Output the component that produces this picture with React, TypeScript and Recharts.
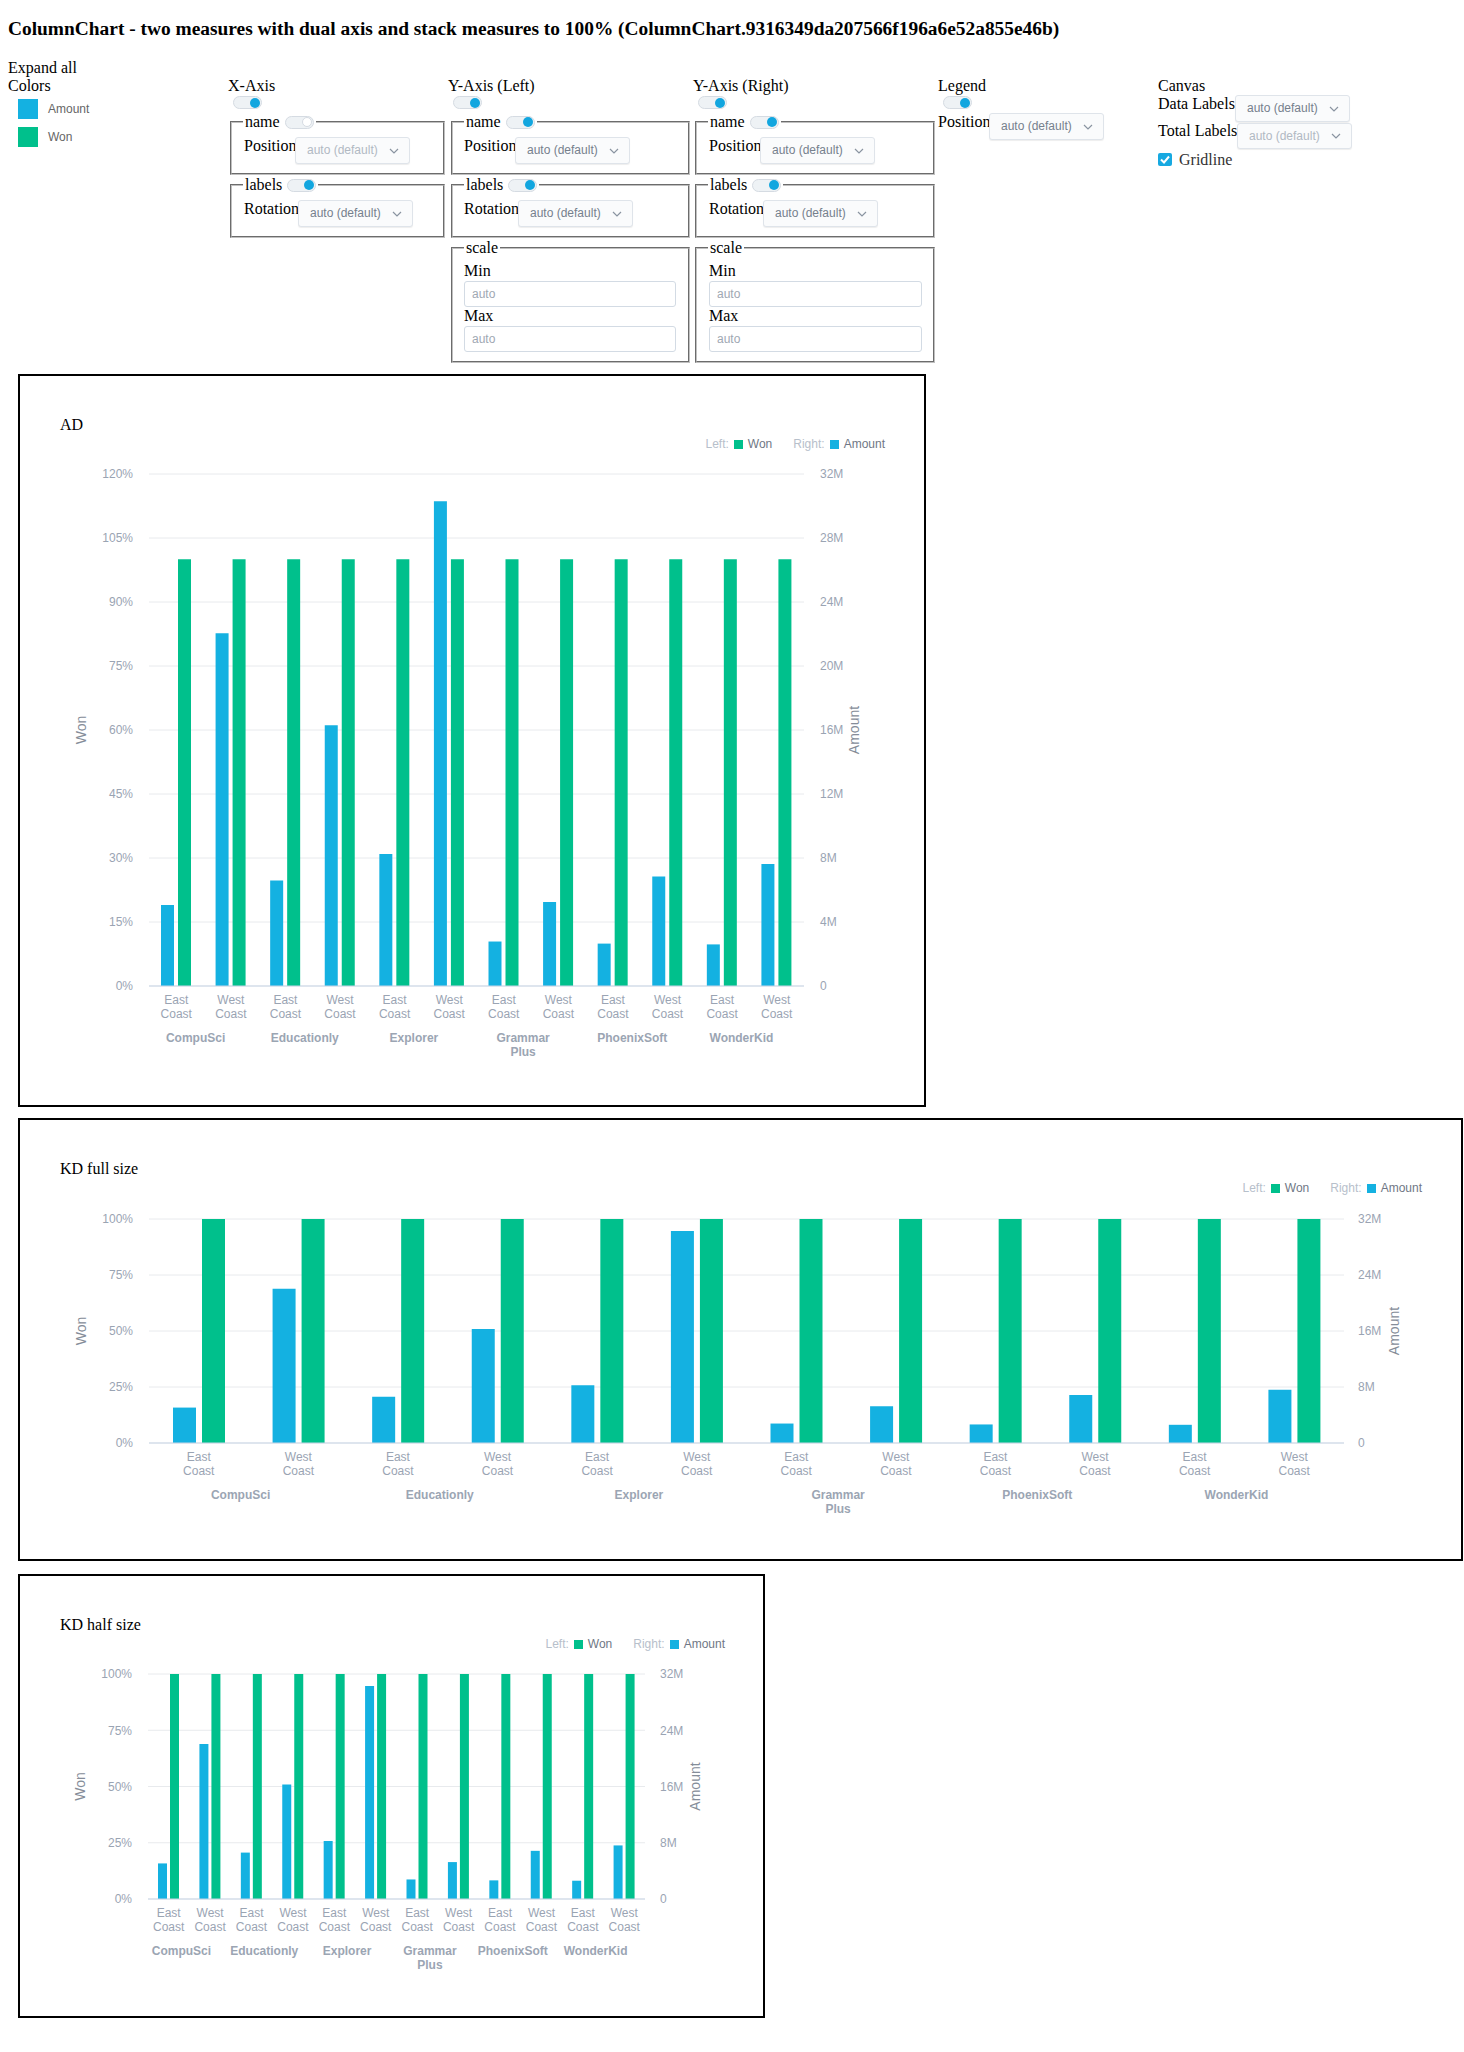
import React from "react";
import { BarChart, Bar, XAxis, YAxis, CartesianGrid } from "recharts";

const SERIF = '"Liberation Serif", "Times New Roman", serif';
const SANS = '"Liberation Sans", Arial, sans-serif';
const BLUE = "#14b1e1";
const GREEN = "#00c08c";
const TICK = "#9aa4b3";

// chart data
const products = [
  "CompuSci", "CompuSci", "Educationly", "Educationly", "Explorer", "Explorer",
  "Grammar Plus", "Grammar Plus", "PhoenixSoft", "PhoenixSoft", "WonderKid", "WonderKid",
];
const regions = [
  "East Coast", "West Coast", "East Coast", "West Coast", "East Coast", "West Coast",
  "East Coast", "West Coast", "East Coast", "West Coast", "East Coast", "West Coast",
];
const amount = [
  5060000, 22050000, 6600000, 16300000, 8250000, 30300000,
  2780000, 5250000, 2650000, 6850000, 2600000, 7620000,
];
const wonShare = [1, 1, 1, 1, 1, 1, 1, 1, 1, 1, 1, 1];

const leftTicksAD = [0, 0.15, 0.3, 0.45, 0.6, 0.75, 0.9, 1.05, 1.2];
const rightTicksAD = [0, 4e6, 8e6, 12e6, 16e6, 20e6, 24e6, 28e6, 32e6];
const leftTicksKD = [0, 0.25, 0.5, 0.75, 1];
const rightTicksKD = [0, 8e6, 16e6, 24e6, 32e6];

const data = products.map((p, i) => ({
  product: p,
  region: regions[i],
  amount: amount[i],
  won: wonShare[i],
}));

const pct = (v: number) => `${Math.round(v * 100)}%`;
const money = (v: number) => (v === 0 ? "0" : `${Math.round(v / 1e6)}M`);

const RegionTick = (props: any) => {
  const { x, y, payload } = props;
  const lines = String(payload.value).split(" ");
  return (
    <text x={x} y={y} textAnchor="middle" fill={TICK} fontSize={12} fontFamily={SANS}>
      {lines.map((l, i) => (
        <tspan key={i} x={x} dy={i === 0 ? 18 : 14}>{l}</tspan>
      ))}
    </text>
  );
};

const ProductTick = (props: any) => {
  const { x, y, payload } = props;
  const lines = String(payload.value).split(" ");
  return (
    <text x={x - 8} y={y} textAnchor="middle" fill="#9ba5b3" fontSize={12} fontWeight="bold" fontFamily={SANS}>
      {lines.map((l, i) => (
        <tspan key={i} x={x - 8} dy={i === 0 ? 26 : 14}>{l}</tspan>
      ))}
    </text>
  );
};

const axisTitle = (text: string, side: "left" | "right") => (props: any) => {
  const vb = props.viewBox || {};
  const cx = side === "left" ? vb.x - 8 : vb.x + 50;
  const cy = vb.y + vb.height / 2;
  return (
    <text
      x={cx}
      y={cy}
      transform={`rotate(-90 ${cx} ${cy})`}
      textAnchor="middle"
      dominantBaseline="central"
      fill="#858d99"
      fontSize={14}
      fontFamily={SANS}
    >
      {text}
    </text>
  );
};

const Txt = ({ x, cy, children, size = 16, color = "#000", bold = false, family = SERIF }: any) => {
  const lh = Math.round(size * 1.15);
  return (
    <div
      style={{
        position: "absolute",
        left: x,
        top: cy - lh / 2,
        fontSize: size,
        lineHeight: `${lh}px`,
        color,
        fontWeight: bold ? "bold" : "normal",
        fontFamily: family,
        whiteSpace: "nowrap",
      }}
    >
      {children}
    </div>
  );
};

const Knob = ({ on }: { on: boolean }) => (
  <div
    style={{
      position: "absolute",
      right: 1,
      top: 0.5,
      width: 10,
      height: 10,
      borderRadius: "50%",
      boxSizing: "border-box",
      background: on ? "#12a6df" : "#fff",
      border: on ? "none" : "1px solid #d5dbe2",
    }}
  />
);

const pillStyle: React.CSSProperties = {
  width: 29,
  height: 13,
  borderRadius: 7,
  background: "#eef2f5",
  border: "1px solid #d5dbe2",
  boxSizing: "border-box",
};

const Toggle = ({ x, y, on = true }: any) => (
  <div style={{ ...pillStyle, position: "absolute", left: x, top: y }}>
    <Knob on={on} />
  </div>
);

const Chevron = () => (
  <svg width={10} height={6} style={{ position: "absolute", right: 10, top: "50%", marginTop: -3 }}>
    <polyline points="1,1 5,5 9,1" fill="none" stroke="#8a94a1" strokeWidth={1.2} />
  </svg>
);

const Select = ({ x, y, w = 115, h = 27, disabled = false }: any) => (
  <div
    style={{
      position: "absolute",
      left: x,
      top: y,
      width: w,
      height: h,
      boxSizing: "border-box",
      border: "1px solid #dfe4ea",
      borderRadius: 3,
      background: "#fafbfc",
      boxShadow: "0 1px 1px rgba(0,0,0,0.07)",
      fontFamily: SANS,
      fontSize: 12,
      color: disabled ? "#b1b9c3" : "#76808d",
      lineHeight: `${h - 2}px`,
      paddingLeft: 11,
      whiteSpace: "nowrap",
    }}
  >
    auto (default)
    <Chevron />
  </div>
);

const Input = ({ x, y, w = 212, h = 26 }: any) => (
  <div
    style={{
      position: "absolute",
      left: x,
      top: y,
      width: w,
      height: h,
      boxSizing: "border-box",
      border: "1px solid #d3dbe4",
      borderRadius: 3,
      paddingLeft: 7,
      fontFamily: SANS,
      fontSize: 12,
      color: "#a0a8b3",
      lineHeight: `${h - 2}px`,
    }}
  >
    auto
  </div>
);

const Fieldset = ({ x, y, w, h, legend, toggle }: any) => (
  <>
    <div
      style={{
        position: "absolute",
        left: x,
        top: y,
        width: w,
        height: h,
        boxSizing: "border-box",
        border: "2px groove rgb(192,192,192)",
      }}
    />
    <div
      style={{
        position: "absolute",
        left: x + 13,
        top: y + 1 - 9,
        height: 18,
        padding: "0 2px",
        background: "#fff",
        display: "flex",
        alignItems: "center",
        fontFamily: SERIF,
        fontSize: 16,
        lineHeight: "18px",
      }}
    >
      {legend}
      {toggle !== undefined && (
        <div style={{ ...pillStyle, position: "relative", marginLeft: 5 }}>
          <Knob on={toggle} />
        </div>
      )}
    </div>
  </>
);

const Checkbox = ({ x, y }: any) => (
  <svg width={14} height={13} style={{ position: "absolute", left: x, top: y }}>
    <rect x={0} y={0} width={14} height={13} rx={2} fill="#17a9e1" />
    <polyline points="3,6.5 6,9.5 11,3.5" fill="none" stroke="#fff" strokeWidth={2} />
  </svg>
);

const SeriesLegend = ({ right, cy }: any) => (
  <div
    style={{
      position: "absolute",
      right,
      top: cy - 7,
      height: 14,
      display: "flex",
      alignItems: "center",
      fontFamily: SANS,
      fontSize: 12,
      lineHeight: "14px",
      whiteSpace: "nowrap",
    }}
  >
    <span style={{ color: "#b7c0cb" }}>Left:</span>
    <span style={{ width: 9, height: 9, background: GREEN, margin: "0 5px", display: "inline-block" }} />
    <span style={{ color: "#6f7785" }}>Won</span>
    <span style={{ color: "#b7c0cb", marginLeft: 21 }}>Right:</span>
    <span style={{ width: 9, height: 9, background: BLUE, margin: "0 5px", display: "inline-block" }} />
    <span style={{ color: "#6f7785" }}>Amount</span>
  </div>
);

type Cfg = {
  left: number;
  top: number;
  width: number;
  height: number;
  title: string;
  leftMax: number;
  leftTicks: number[];
  rightTicks: number[];
  margin: { top: number; right: number; bottom: number; left: number };
  barSize: number;
  barGap: number;
  legendRight: number;
  rightTickMargin: number;
};

const ChartBox = ({ cfg }: { cfg: Cfg }) => (
  <div
    style={{
      position: "absolute",
      left: cfg.left,
      top: cfg.top,
      width: cfg.width,
      height: cfg.height,
      boxSizing: "border-box",
      border: "2px solid #000",
    }}
  >
    <BarChart
      width={cfg.width - 4}
      height={cfg.height - 4}
      data={data}
      margin={cfg.margin}
      barGap={cfg.barGap}
    >
      <CartesianGrid xAxisId="a" yAxisId="left" vertical={false} stroke="#e8eaed" />
      {/* product (group) axis sits under the region axis */}
      <XAxis
        xAxisId="b"
        dataKey="product"
        allowDuplicatedCategory={false}
        height={40}
        interval={0}
        tickSize={0}
        tickMargin={0}
        tickLine={false}
        axisLine={false}
        tick={<ProductTick />}
      />
      <XAxis
        xAxisId="a"
        dataKey="region"
        height={30}
        interval={0}
        tickSize={0}
        tickMargin={0}
        tickLine={false}
        axisLine={{ stroke: "#c9d5e6" }}
        tick={<RegionTick />}
      />
      <YAxis
        yAxisId="left"
        orientation="left"
        width={60}
        domain={[0, cfg.leftMax]}
        ticks={cfg.leftTicks}
        tickFormatter={pct}
        axisLine={false}
        tickLine={false}
        tickMargin={10}
        tick={{ fill: TICK, fontSize: 12, fontFamily: SANS }}
        label={axisTitle("Won", "left")}
      />
      <YAxis
        yAxisId="right"
        orientation="right"
        width={60}
        domain={[0, 32e6]}
        ticks={cfg.rightTicks}
        tickFormatter={money}
        axisLine={false}
        tickLine={false}
        tickMargin={cfg.rightTickMargin}
        tick={{ fill: TICK, fontSize: 12, fontFamily: SANS }}
        label={axisTitle("Amount", "right")}
      />
      <Bar xAxisId="a" yAxisId="right" dataKey="amount" fill={BLUE} barSize={cfg.barSize} isAnimationActive={false} />
      <Bar xAxisId="a" yAxisId="left" dataKey="won" fill={GREEN} barSize={cfg.barSize} isAnimationActive={false} />
    </BarChart>
    <Txt x={40} cy={49}>{cfg.title}</Txt>
    <SeriesLegend right={cfg.legendRight} cy={68} />
  </div>
);

const charts: Cfg[] = [
  {
    left: 18, top: 374, width: 908, height: 733, title: "AD",
    leftMax: 1.2, leftTicks: leftTicksAD, rightTicks: rightTicksAD,
    margin: { top: 98, right: 60, bottom: 49, left: 69 },
    barSize: 13, barGap: 4, legendRight: 39, rightTickMargin: 10,
  },
  {
    left: 18, top: 1118, width: 1445, height: 443, title: "KD full size",
    leftMax: 1, leftTicks: leftTicksKD, rightTicks: rightTicksKD,
    margin: { top: 99, right: 57, bottom: 46, left: 69 },
    barSize: 23, barGap: 6, legendRight: 39, rightTickMargin: 8,
  },
  {
    left: 18, top: 1574, width: 747, height: 444, title: "KD half size",
    leftMax: 1, leftTicks: leftTicksKD, rightTicks: rightTicksKD,
    margin: { top: 98, right: 58, bottom: 47, left: 68 },
    barSize: 9, barGap: 3, legendRight: 38, rightTickMargin: 9,
  },
];

export default function App() {
  return (
    <div style={{ position: "absolute", left: 0, top: 0, width: 1464, height: 2052, fontFamily: SERIF }}>
      <Txt x={8} cy={29} size={19.4} bold>
        ColumnChart - two measures with dual axis and stack measures to 100% (ColumnChart.9316349da207566f196a6e52a855e46b)
      </Txt>
      <Txt x={8} cy={68}>Expand all</Txt>

      {/* Colors */}
      <Txt x={8} cy={86}>Colors</Txt>
      <div style={{ position: "absolute", left: 18, top: 99, width: 20, height: 20, background: BLUE }} />
      <Txt x={48} cy={108.5} size={12} color="#666" family={SANS}>Amount</Txt>
      <div style={{ position: "absolute", left: 18, top: 127, width: 20, height: 20, background: GREEN }} />
      <Txt x={48} cy={137} size={12} color="#666" family={SANS}>Won</Txt>

      {/* X-Axis */}
      <Txt x={228} cy={86}>X-Axis</Txt>
      <Toggle x={233} y={96} />
      <Fieldset x={230} y={121} w={215} h={54} legend="name" toggle={false} />
      <Txt x={244} cy={146}>Position</Txt>
      <Select x={295} y={137} disabled />
      <Fieldset x={230} y={184} w={215} h={54} legend="labels" toggle={true} />
      <Txt x={244} cy={209}>Rotation</Txt>
      <Select x={298} y={200} />

      {/* Y-Axis (Left) */}
      <Txt x={448} cy={86}>Y-Axis (Left)</Txt>
      <Toggle x={453} y={96} />
      <Fieldset x={451} y={121} w={239} h={54} legend="name" toggle={true} />
      <Txt x={464} cy={146}>Position</Txt>
      <Select x={515} y={137} />
      <Fieldset x={451} y={184} w={239} h={54} legend="labels" toggle={true} />
      <Txt x={464} cy={209}>Rotation</Txt>
      <Select x={518} y={200} />
      <Fieldset x={451} y={247} w={239} h={116} legend="scale" />
      <Txt x={464} cy={271}>Min</Txt>
      <Input x={464} y={281} />
      <Txt x={464} cy={316}>Max</Txt>
      <Input x={464} y={326} />

      {/* Y-Axis (Right) */}
      <Txt x={693} cy={86}>Y-Axis (Right)</Txt>
      <Toggle x={698} y={96} />
      <Fieldset x={695} y={121} w={240} h={54} legend="name" toggle={true} />
      <Txt x={709} cy={146}>Position</Txt>
      <Select x={760} y={137} />
      <Fieldset x={695} y={184} w={240} h={54} legend="labels" toggle={true} />
      <Txt x={709} cy={209}>Rotation</Txt>
      <Select x={763} y={200} />
      <Fieldset x={695} y={247} w={240} h={116} legend="scale" />
      <Txt x={709} cy={271}>Min</Txt>
      <Input x={709} y={281} w={213} />
      <Txt x={709} cy={316}>Max</Txt>
      <Input x={709} y={326} w={213} />

      {/* Legend */}
      <Txt x={938} cy={86}>Legend</Txt>
      <Toggle x={943} y={96} />
      <Txt x={938} cy={122}>Position</Txt>
      <Select x={989} y={113} />

      {/* Canvas */}
      <Txt x={1158} cy={86}>Canvas</Txt>
      <Txt x={1158} cy={104}>Data Labels</Txt>
      <Select x={1235} y={95} />
      <Txt x={1158} cy={131}>Total Labels</Txt>
      <Select x={1237} y={123} h={26} disabled />
      <Checkbox x={1158} y={153} />
      <Txt x={1179} cy={160} color="#333">Gridline</Txt>

      {charts.map((c) => (
        <ChartBox key={c.title} cfg={c} />
      ))}
    </div>
  );
}
